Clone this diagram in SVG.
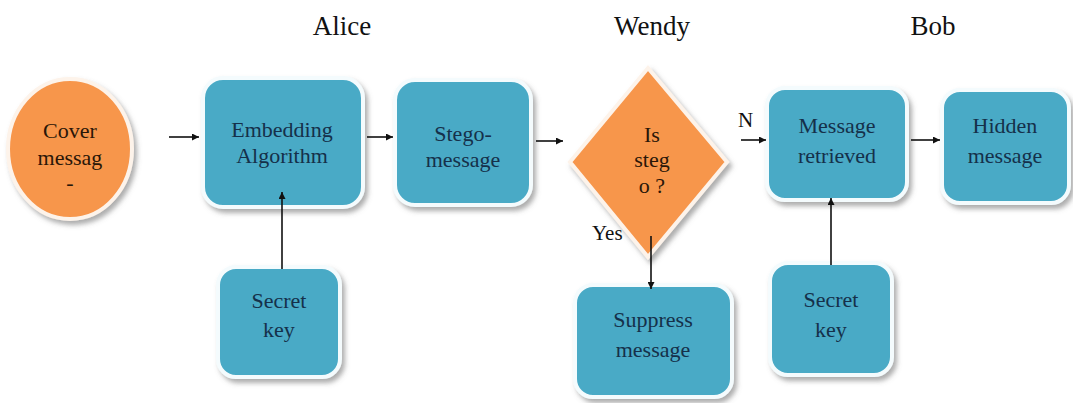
<svg xmlns="http://www.w3.org/2000/svg" width="1073" height="403" viewBox="0 0 1073 403">
  <style>
    text { font-family: "Liberation Serif", "DejaVu Serif", "Noto Serif", serif; }
    .title { font-size: 27px; fill: #111; text-anchor: middle; }
    .lbl { font-size: 22px; fill: #15304a; text-anchor: middle; }
    .lblo { font-size: 22px; fill: #2a1608; text-anchor: middle; }
    .note { font-size: 21px; fill: #111; }
    .box { fill: #4aaac6; stroke: #f4fbfd; stroke-width: 4; filter: url(#sh); }
    .orange { fill: #f7964c; stroke: #fdf3ea; stroke-width: 4; filter: url(#sh); }
    .conn { stroke: #111; stroke-width: 1.6; fill: none; marker-end: url(#ah); }
  </style>
  <defs>
    <filter id="sh" x="-20%" y="-20%" width="140%" height="140%">
      <feDropShadow dx="3" dy="4" stdDeviation="2.5" flood-color="#6b6b6b" flood-opacity="0.55"/>
    </filter>
    <marker id="ah" viewBox="0 0 10 10" refX="10" refY="5" markerWidth="7" markerHeight="7" markerUnits="userSpaceOnUse" orient="auto">
      <path d="M0,0 L10,5 L0,10 z" fill="#111"/>
    </marker>
  </defs>
  <rect width="1073" height="403" fill="#ffffff"/>

  <!-- lane titles -->
  <g id="titles">
    <text class="title" x="342" y="35">Alice</text>
    <text class="title" x="652" y="35">Wendy</text>
    <text class="title" x="933" y="35">Bob</text>
  </g>

  <g id="cover">
    <ellipse class="orange" cx="70" cy="149" rx="62" ry="70"/>
    <text class="lblo" x="70" y="138">Cover</text>
    <text class="lblo" x="70" y="165">messag</text>
    <text class="lblo" x="70" y="190">-</text>
  </g>

  <g id="embedding">
    <rect class="box" x="203" y="78" width="160" height="129" rx="20"/>
    <text class="lbl" x="282" y="137">Embedding</text>
    <text class="lbl" x="282" y="163">Algorithm</text>
  </g>

  <g id="stego">
    <rect class="box" x="395" y="80" width="136" height="125" rx="20"/>
    <text class="lbl" x="463" y="141">Stego-</text>
    <text class="lbl" x="463" y="167">message</text>
  </g>

  <g id="decision">
    <polygon class="orange" points="648,68 727,162 648,257 570,162"/>
    <text class="lblo" x="652" y="142">Is</text>
    <text class="lblo" x="652" y="167">steg</text>
    <text class="lblo" x="652" y="193">o ?</text>
  </g>

  <g id="retrieved">
    <rect class="box" x="767" y="88" width="140" height="112" rx="18"/>
    <text class="lbl" x="837" y="133">Message</text>
    <text class="lbl" x="837" y="163">retrieved</text>
  </g>

  <g id="hidden">
    <rect class="box" x="942" y="90" width="127" height="113" rx="18"/>
    <text class="lbl" x="1005" y="133">Hidden</text>
    <text class="lbl" x="1005" y="163">message</text>
  </g>

  <g id="key-alice">
    <rect class="box" x="218" y="267" width="122" height="110" rx="18"/>
    <text class="lbl" x="279" y="308">Secret</text>
    <text class="lbl" x="279" y="337">key</text>
  </g>

  <g id="suppress">
    <rect class="box" x="575" y="285" width="157" height="112" rx="18"/>
    <text class="lbl" x="653" y="327">Suppress</text>
    <text class="lbl" x="653" y="357">message</text>
  </g>

  <g id="key-bob">
    <rect class="box" x="770" y="263" width="122" height="112" rx="18"/>
    <text class="lbl" x="831" y="307">Secret</text>
    <text class="lbl" x="831" y="337">key</text>
  </g>

  <g id="connectors">
    <line class="conn" x1="169" y1="137" x2="199" y2="137"/>
    <line class="conn" x1="367" y1="137" x2="393" y2="137"/>
    <line class="conn" x1="536" y1="141" x2="563" y2="141"/>
    <line class="conn" x1="741" y1="140" x2="766" y2="140"/>
    <line class="conn" x1="911" y1="140" x2="940" y2="140"/>
    <line class="conn" x1="282" y1="269" x2="282" y2="192"/>
    <line class="conn" x1="831" y1="265" x2="831" y2="198"/>
    <line class="conn" x1="651" y1="236" x2="651" y2="289"/>
    <text class="note" x="738" y="127">N</text>
    <text class="note" x="592" y="240">Yes</text>
  </g>
</svg>
